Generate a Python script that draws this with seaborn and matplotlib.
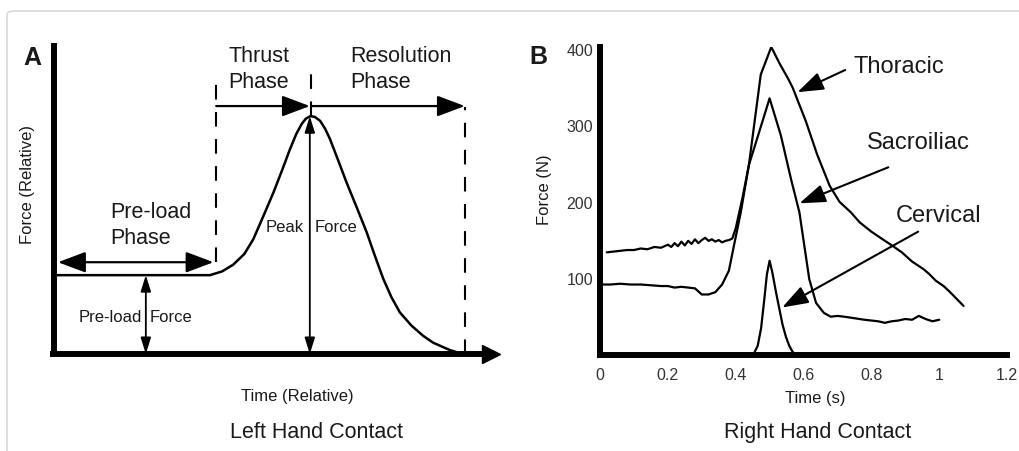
import numpy as np
import pandas as pd
import matplotlib
matplotlib.use('Agg')
import matplotlib.pyplot as plt
import seaborn as sns
from matplotlib.patches import FancyBboxPatch

# Panel A: idealised force-time curve (relative units)
rel_time = [0.006, 0.10, 0.20, 0.30, 0.348, 0.375, 0.400, 0.425, 0.445, 0.468,
            0.490, 0.510, 0.527, 0.541, 0.553, 0.562, 0.572, 0.582, 0.594, 0.605,
            0.616, 0.634, 0.653, 0.676, 0.698, 0.716, 0.735, 0.753, 0.772, 0.798,
            0.824, 0.846, 0.869, 0.885, 0.899]
rel_force = [0.256, 0.256, 0.256, 0.256, 0.256, 0.268, 0.290, 0.325, 0.373, 0.450,
             0.525, 0.600, 0.666, 0.715, 0.747, 0.764, 0.772, 0.770, 0.757, 0.732,
             0.698, 0.630, 0.557, 0.475, 0.395, 0.320, 0.244, 0.185, 0.135, 0.092,
             0.059, 0.037, 0.022, 0.012, 0.006]
preload_end = 0.362
peak_time = 0.574
resolution_end = 0.917
preload_force = 0.256
peak_force = 0.772

# Panel B: measured force-time curves (N vs s)
thoracic_t = [0.02, 0.04, 0.06, 0.08, 0.10, 0.12, 0.14, 0.16, 0.18, 0.20, 0.21, 0.22,
              0.23, 0.24, 0.25, 0.26, 0.27, 0.28, 0.29, 0.30, 0.31, 0.32, 0.33, 0.34,
              0.35, 0.36, 0.37, 0.38, 0.39, 0.40, 0.42, 0.439, 0.474, 0.505, 0.53,
              0.553, 0.568, 0.607, 0.64, 0.677, 0.706, 0.74, 0.766, 0.80, 0.83, 0.864,
              0.89, 0.92, 0.954, 0.97, 0.99, 1.013, 1.03, 1.05, 1.072]
thoracic_f = [134, 135, 136, 137, 137, 139, 138, 141, 140, 144, 141, 146,
              142, 148, 143, 149, 145, 151, 146, 150, 153, 149, 151, 148,
              150, 147, 149, 150, 152, 165, 205, 248, 366, 402, 380,
              362, 349, 305, 262, 221, 200, 186, 173, 161, 152, 142,
              134, 122, 112, 106, 97, 90, 83, 74, 64]
sacro_t = [0.0, 0.03, 0.06, 0.09, 0.12, 0.15, 0.18, 0.20, 0.22, 0.24, 0.26, 0.28,
           0.29, 0.30, 0.32, 0.34, 0.36, 0.38, 0.395, 0.415, 0.439, 0.47, 0.50,
           0.533, 0.563, 0.588, 0.617, 0.637, 0.66, 0.68, 0.70, 0.72, 0.75, 0.78,
           0.80, 0.82, 0.84, 0.86, 0.88, 0.90, 0.92, 0.94, 0.96, 0.98, 1.0]
sacro_f = [92, 92, 93, 92, 92, 91, 90, 90, 88, 89, 88, 87,
           83, 79, 79, 82, 92, 110, 143, 186, 248, 292, 335,
           287, 230, 186, 99, 68, 55, 50, 51, 50, 48, 46,
           45, 44, 42, 44, 45, 47, 46, 51, 47, 44, 46]
cervical_t = [0.44, 0.455, 0.465, 0.475, 0.485, 0.492, 0.50, 0.508, 0.518, 0.528,
              0.538, 0.548, 0.558, 0.568, 0.58]
cervical_f = [0, 3, 12, 35, 75, 105, 123, 108, 84, 62, 40, 24, 12, 4, 0]
x_ticks = [0, 0.2, 0.4, 0.6, 0.8, 1.0, 1.2]
x_tick_labels = ['0', '0.2', '0.4', '0.6', '0.8', '1', '1.2']
y_ticks = [100, 200, 300, 400]

curves = pd.concat([
    pd.DataFrame({'time': thoracic_t, 'force': thoracic_f, 'region': 'Thoracic'}),
    pd.DataFrame({'time': sacro_t, 'force': sacro_f, 'region': 'Sacroiliac'}),
    pd.DataFrame({'time': cervical_t, 'force': cervical_f, 'region': 'Cervical'}),
])

sns.set_style('white')
plt.rcParams['font.family'] = ['Liberation Sans', 'DejaVu Sans']
ink = '#1a1a1a'

fig = plt.figure(figsize=(10.19, 4.52), dpi=100)
W, H = 1019, 452

# light rounded frame of the source page
fig.patches.append(FancyBboxPatch((7 / W, -0.1), 1.2, (452 - 12) / H + 0.1,
                                  boxstyle='round,pad=0,rounding_size=0.008',
                                  transform=fig.transFigure, fill=False,
                                  edgecolor='#d8d8d8', lw=1.2))

# ---------------- Panel A ----------------
axA = fig.add_axes([54 / W, (452 - 355) / H, 448 / W, 308 / H])
sns.lineplot(x=rel_time, y=rel_force, ax=axA, color='k', lw=1.8, sort=False)
axA.set_xlim(0, 1)
axA.set_ylim(0, 1)
axA.set_xticks([])
axA.set_yticks([])
for s in ['top', 'right', 'bottom']:
    axA.spines[s].set_visible(False)
axA.spines['left'].set_linewidth(4.3)
axA.spines['left'].set_color('k')
# x axis with arrow head
axA.plot([-0.008, 0.965], [0, 0], color='k', lw=4.3, clip_on=False,
         solid_capstyle='butt')
axA.plot([0.975], [0], marker='>', color='k', ms=13, clip_on=False)

dash = dict(color='k', lw=1.5, dashes=(7, 6))
axA.plot([preload_end, preload_end], [preload_force + 0.043, 0.896], **dash)
axA.plot([peak_time, peak_time], [peak_force, 0.935], **dash)
axA.plot([resolution_end, resolution_end], [0, 0.802], **dash)

big = dict(arrowstyle='-|>,head_length=0.85,head_width=0.32', color='k', lw=1.6,
           shrinkA=0, shrinkB=0, mutation_scale=20)
big2 = dict(big, arrowstyle='<|-|>,head_length=0.85,head_width=0.32')
small2 = dict(arrowstyle='<|-|>,head_length=0.7,head_width=0.22', color='k', lw=1.3,
              shrinkA=0, shrinkB=0, mutation_scale=14)
axA.annotate('', xy=(peak_time - 0.003, 0.805), xytext=(preload_end, 0.805), arrowprops=big)
axA.annotate('', xy=(resolution_end, 0.805), xytext=(peak_time, 0.805), arrowprops=big)
axA.annotate('', xy=(0.009, 0.298), xytext=(preload_end - 0.006, 0.298), arrowprops=big2)
axA.annotate('', xy=(0.205, 0.0), xytext=(0.205, preload_force), arrowprops=small2)
axA.annotate('', xy=(peak_time - 0.003, 0.0), xytext=(peak_time - 0.003, peak_force),
             arrowprops=small2)

phase_txt = dict(fontsize=15.5, color=ink, ha='left', va='center', linespacing=1.3)
axA.text(0.390, 0.928, 'Thrust\nPhase', **phase_txt)
axA.text(0.661, 0.928, 'Resolution\nPhase', **phase_txt)
axA.text(0.125, 0.42, 'Pre-load\nPhase', **phase_txt)
axA.text(peak_time - 0.016, 0.413, 'Peak', fontsize=12, color=ink, ha='right', va='center')
axA.text(peak_time + 0.008, 0.413, 'Force', fontsize=12, color=ink, ha='left', va='center')
axA.text(0.196, 0.123, 'Pre-load', fontsize=12, color=ink, ha='right', va='center')
axA.text(0.214, 0.123, 'Force', fontsize=12, color=ink, ha='left', va='center')
axA.set_xlabel('Time (Relative)', fontsize=12, color=ink)
axA.xaxis.set_label_coords(0.542, -0.11)
axA.set_ylabel('Force (Relative)', fontsize=12, color=ink)
axA.yaxis.set_label_coords(-0.042, 0.552)
fig.text(32 / W, 1 - 58 / H, 'A', fontsize=18, fontweight='bold', color=ink,
         ha='center', va='center')
fig.text(317 / W, 1 - 433 / H, 'Left Hand Contact', fontsize=15.5, color=ink,
         ha='center', va='center')

# ---------------- Panel B ----------------
axB = fig.add_axes([600 / W, (452 - 356) / H, 407 / W, 308 / H])
sns.lineplot(data=curves, x='time', y='force', units='region', estimator=None,
             sort=False, color='k', lw=1.6, ax=axB)
axB.set_xlim(0, 1.2)
axB.set_ylim(0, 402)
for s in ['top', 'right']:
    axB.spines[s].set_visible(False)
for s in ['left', 'bottom']:
    axB.spines[s].set_linewidth(4.3)
    axB.spines[s].set_color('k')
axB.set_xticks(x_ticks)
axB.set_xticklabels(x_tick_labels)
axB.set_yticks(y_ticks)
axB.tick_params(axis='both', direction='in', length=5, width=1.5, colors='k',
                labelsize=11.5, labelcolor='#333333')
axB.tick_params(axis='x', pad=9)
axB.tick_params(axis='y', pad=5)
axB.set_xlabel('Time (s)', fontsize=12, color=ink)
axB.xaxis.set_label_coords(0.528, -0.115)
axB.set_ylabel('Force (N)', fontsize=12, color=ink)
axB.yaxis.set_label_coords(-0.118, 0.54)

arr = dict(arrowstyle='-|>,head_length=0.8,head_width=0.28', color='k', lw=1.5,
           shrinkA=0, shrinkB=0, mutation_scale=20)
label_txt = dict(fontsize=17, color=ink, ha='left', va='center')
axB.annotate('', xy=(0.582, 343), xytext=(0.723, 372), arrowprops=arr)
axB.text(0.746, 377, 'Thoracic', **label_txt)
axB.annotate('', xy=(0.588, 198), xytext=(0.85, 245), arrowprops=arr)
axB.text(0.788, 278, 'Sacroiliac', **label_txt)
axB.annotate('', xy=(0.537, 62), xytext=(0.938, 161), arrowprops=arr)
axB.text(0.873, 183, 'Cervical', **label_txt)
fig.text(538 / W, 1 - 57 / H, 'B', fontsize=18, fontweight='bold', color=ink,
         ha='center', va='center')
fig.text(818 / W, 1 - 433 / H, 'Right Hand Contact', fontsize=15.5, color=ink,
         ha='center', va='center')

fig.savefig('out.png', dpi=100)
